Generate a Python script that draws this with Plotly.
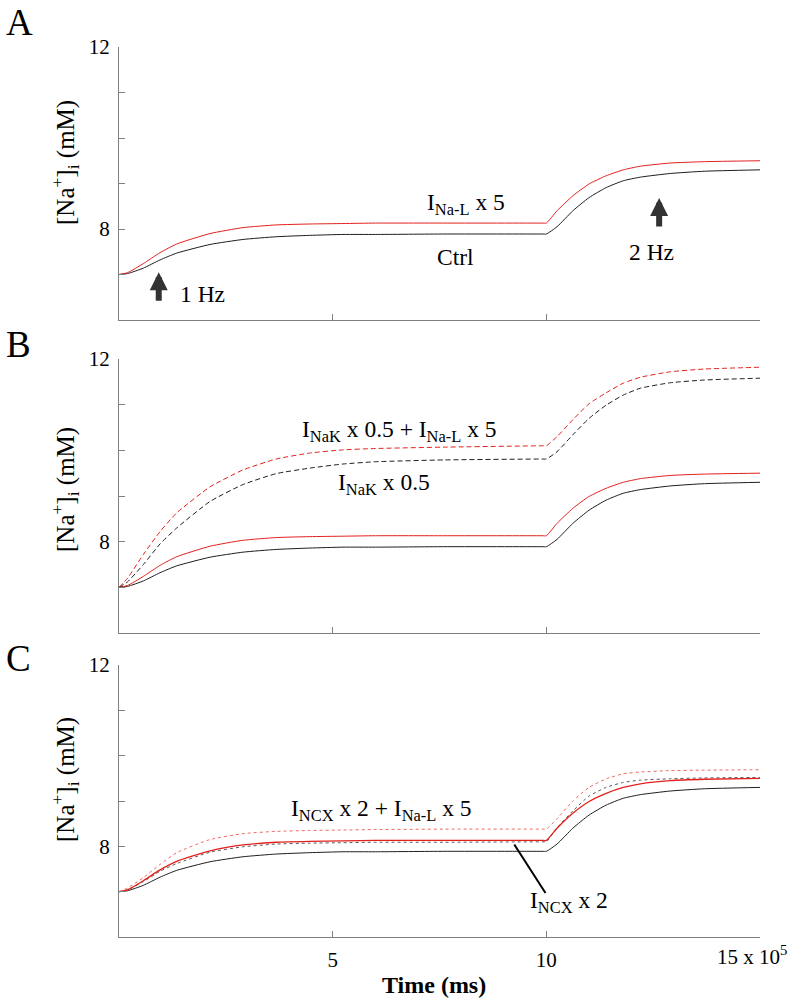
import plotly.graph_objects as go

# ---------------- data ----------------
t = [0, 0.2, 0.57, 0.96, 1.35, 2.13, 2.9, 3.68, 4.46, 5.24, 6.0, 7.6, 9.9, 10.0,
     10.25, 10.62, 11.0, 11.4, 11.8, 12.2, 12.9, 13.7, 15.0]

ctrl = [7.0, 7.02, 7.14, 7.32, 7.47, 7.66, 7.77, 7.83, 7.86, 7.88, 7.88, 7.89, 7.89, 7.89,
        8.05, 8.40, 8.69, 8.91, 9.06, 9.14, 9.22, 9.27, 9.30]
nal5 = [7.0, 7.04, 7.24, 7.48, 7.67, 7.90, 8.03, 8.09, 8.11, 8.12, 8.13, 8.13, 8.13, 8.13,
        8.40, 8.73, 8.99, 9.17, 9.30, 9.38, 9.45, 9.48, 9.50]
nak05 = [7.0, 7.12, 7.50, 7.95, 8.30, 8.88, 9.25, 9.49, 9.61, 9.70, 9.75, 9.79, 9.81, 9.81,
         9.97, 10.34, 10.70, 10.99, 11.21, 11.36, 11.48, 11.54, 11.58]
nak05_nal5 = [7.0, 7.20, 7.72, 8.22, 8.63, 9.20, 9.57, 9.81, 9.94, 10.01, 10.04, 10.07, 10.10, 10.10,
              10.30, 10.67, 11.02, 11.26, 11.47, 11.60, 11.72, 11.78, 11.82]
ncx2 = [7.0, 7.04, 7.22, 7.45, 7.62, 7.87, 7.99, 8.05, 8.07, 8.08, 8.09, 8.09, 8.10, 8.10,
        8.41, 8.78, 9.11, 9.30, 9.41, 9.46, 9.49, 9.51, 9.52]
ncx2_nal5 = [7.0, 7.08, 7.31, 7.60, 7.86, 8.15, 8.28, 8.33, 8.35, 8.36, 8.37, 8.38, 8.38, 8.38,
             8.61, 9.00, 9.30, 9.49, 9.60, 9.64, 9.67, 9.68, 9.69]

x_tickvals = [5, 10, 15]
x_ticktext = ["5", "10", ""]
y_tickvals = [7, 8, 9, 10, 11, 12]
y_ticktext = ["", "8", "", "", "", "12"]

# ---------------- geometry ----------------
W, H = 790, 998
L, R, T, B = 119, 760, 47, 937
FONT = "Liberation Serif, Times New Roman, serif"
RED = "#e3201c"
BLK = "#1e1e1e"
GRAY = "#5a5a5a"
AX = "#7f7f7f"
LBL = 23.5


def py2paper(py):
    return (B - py) / (B - T)


def px2paper(px):
    return (px - L) / (R - L)


domains = [
    [py2paper(320), py2paper(47)],
    [py2paper(633), py2paper(359)],
    [py2paper(937), py2paper(665)],
]

fig = go.Figure()


def add_line(panel, y, color, dash="solid", width=1.0):
    sfx = "" if panel == 1 else str(panel)
    fig.add_trace(go.Scatter(
        x=t, y=y, mode="lines", xaxis="x" + sfx, yaxis="y" + sfx,
        line=dict(color=color, width=width, dash=dash, shape="spline", smoothing=0.5),
        showlegend=False, hoverinfo="skip"))


# Panel A
add_line(1, ctrl, BLK)
add_line(1, nal5, RED)
# Panel B
add_line(2, ctrl, BLK)
add_line(2, nal5, RED)
add_line(2, nak05, BLK, dash="5px,3px", width=1.0)
add_line(2, nak05_nal5, RED, dash="5px,3px", width=1.0)
# Panel C
add_line(3, ctrl, BLK)
add_line(3, ncx2, GRAY, dash="dot", width=1.0)
add_line(3, nal5, RED, width=1.3)
add_line(3, ncx2_nal5, "#ee6a66", dash="dot", width=1.0)

layout = dict(width=W, height=H, margin=dict(l=L, r=W - R, t=T, b=H - B),
              paper_bgcolor="white", plot_bgcolor="white",
              font=dict(family=FONT, size=20, color="black"), showlegend=False)

for i in range(3):
    sfx = "" if i == 0 else str(i + 1)
    layout["xaxis" + sfx] = dict(
        domain=[0, 1], anchor="y" + sfx, range=[0, 15], showgrid=False, zeroline=False,
        showline=True, linecolor=AX, linewidth=1, ticks="inside", ticklen=6, tickcolor=AX,
        tickvals=x_tickvals, ticktext=x_ticktext, showticklabels=(i == 2),
        tickfont=dict(family=FONT, size=21, color="black"), ticklabelstandoff=4)
    layout["yaxis" + sfx] = dict(
        domain=domains[i], anchor="x" + sfx, range=[6, 12], showgrid=False, zeroline=False,
        showline=True, linecolor=AX, linewidth=1, ticks="inside", ticklen=6, tickcolor=AX,
        tickvals=y_tickvals, ticktext=y_ticktext,
        tickfont=dict(family=FONT, size=21, color="black"), ticklabelstandoff=4)

fig.update_layout(**layout)

ann = []


def txt(text, x, y, ref="", size=LBL, xanchor="center", **kw):
    a = dict(text=text, x=x, y=y, showarrow=False, xanchor=xanchor, yanchor="middle",
             font=dict(family=FONT, size=size, color="black"), **kw)
    if ref == "paper":
        a.update(xref="paper", yref="paper")
    else:
        a.update(xref="x" + ref, yref="y" + ref)
    ann.append(a)


# panel letters
txt("A", px2paper(19), py2paper(22), ref="paper", size=37)
txt("B", px2paper(18), py2paper(344), ref="paper", size=37)
txt("C", px2paper(18), py2paper(658), ref="paper", size=37)

# y titles
ytitle = "[Na<sup>+</sup>]<sub>i</sub> (mM)"
for yc in (163, 490, 780):
    txt(ytitle, px2paper(65), py2paper(yc), ref="paper", size=25, textangle=-90)

# x title and exponent label
txt("<b>Time (ms)</b>", px2paper(434), py2paper(985), ref="paper", size=24)
txt("15 x 10<sup>5</sup>", px2paper(789), py2paper(955), ref="paper", size=21, xanchor="right")

# Panel A labels
txt("I<sub>Na-L</sub> x 5", 8.13, 8.55)
txt("Ctrl", 7.87, 7.38)
txt("1 Hz", 1.38, 6.57, xanchor="left")
txt("2 Hz", 12.45, 7.49)

# Panel B labels
txt("I<sub>NaK</sub> x 0.5 + I<sub>Na-L</sub> x 5", 6.57, 10.42, ref="2")
txt("I<sub>NaK</sub> x 0.5", 6.19, 9.26, ref="2")

# Panel C labels
txt("I<sub>NCX</sub> x 2 + I<sub>Na-L</sub> x 5", 6.14, 8.80, ref="3")
txt("I<sub>NCX</sub> x 2", 10.54, 6.78, ref="3")

# frequency arrows
for (xa, ya) in ((0.93, 7.05), (12.64, 8.68)):
    ann.append(dict(x=xa, y=ya, xref="x", yref="y", ax=0, ay=30, showarrow=True,
                    arrowhead=2, arrowsize=0.6, arrowwidth=6, arrowcolor="#333333",
                    text="", standoff=0))

fig.update_layout(annotations=ann)

# pointer line for I_NCX x 2
fig.add_shape(type="line", xref="x3", yref="y3", x0=9.25, y0=8.04, x1=9.98, y1=6.97,
              line=dict(color="black", width=2))

fig.write_html("out.html", config={"displayModeBar": False},
               post_script="document.body.style.margin='0';")
